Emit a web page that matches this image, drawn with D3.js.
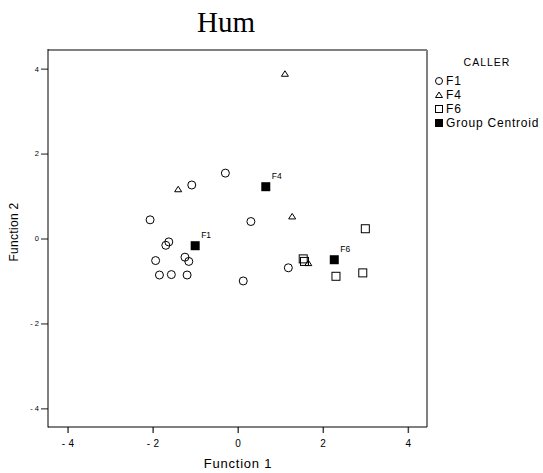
<!DOCTYPE html>
<html>
<head>
<meta charset="utf-8">
<script src="https://cdn.jsdelivr.net/npm/d3@7"></script>
<style>
  html, body { margin: 0; padding: 0; background: #fff; }
  svg { display: block; }
  text { font-family: "Liberation Sans", Arial, Helvetica, sans-serif; fill: #000; }
</style>
</head>
<body>
<svg id="chart" width="543" height="473"></svg>
<script>
// Discriminant scores per case, grouped by caller
const f1Points = [
  [-0.29, 1.54], [-1.08, 1.26], [-2.06, 0.44], [0.31, 0.40],
  [-1.62, -0.08], [-1.69, -0.16], [-1.93, -0.52], [-1.24, -0.44],
  [-1.15, -0.54], [-1.84, -0.86], [-1.56, -0.85], [-1.19, -0.86],
  [0.13, -1.00], [1.19, -0.69]
];
const f4Points = [
  [1.11, 3.88], [-1.40, 1.16], [1.28, 0.52], [1.66, -0.58]
];
const f6Points = [
  [3.00, 0.23], [1.54, -0.48], [1.57, -0.54], [2.31, -0.89], [2.94, -0.81]
];
// Group centroids
const centroidLabels = ["F1", "F4", "F6"];
const centroidX = [-1.00, 0.66, 2.27];
const centroidY = [-0.17, 1.22, -0.50];

const tickValues = [-4, -2, 0, 2, 4];
const legendLabels = ["F1", "F4", "F6", "Group Centroid"];

const svg = d3.select("#chart");
const plotLeft = 48, plotRight = 427, plotTop = 50, plotBottom = 427;

const x = d3.scaleLinear().domain([-4.46, 4.45]).range([plotLeft, plotRight]);
const y = d3.scaleLinear().domain([-4.44, 4.44]).range([plotBottom, plotTop]);

const fmt = v => v < 0 ? "- " + Math.abs(v) : String(v);

// Title
svg.append("text")
  .attr("x", 226).attr("y", 32)
  .attr("text-anchor", "middle")
  .style("font-family", "'Liberation Serif', 'Times New Roman', serif")
  .style("font-size", "29px")
  .text("Hum");

// Axes
const xAxis = svg.append("g")
  .attr("transform", `translate(0,${plotBottom})`)
  .call(d3.axisBottom(x).tickValues(tickValues).tickFormat(fmt).tickSize(6).tickPadding(7));
xAxis.select(".domain").remove();
xAxis.selectAll(".tick line").attr("stroke", "#444").attr("stroke-width", 1.5);
xAxis.selectAll(".tick text").style("font-size", "10px").style("letter-spacing", "0.3px");

const yAxis = svg.append("g")
  .attr("transform", `translate(${plotLeft},0)`)
  .call(d3.axisLeft(y).tickValues(tickValues).tickFormat(fmt).tickSize(7).tickPadding(2));
yAxis.select(".domain").remove();
yAxis.selectAll(".tick line").attr("stroke", "#666").attr("stroke-width", 1.5);
yAxis.selectAll(".tick text").style("font-size", "7.5px");

// Frame
svg.append("line").attr("x1", plotLeft).attr("x2", plotRight).attr("y1", plotTop).attr("y2", plotTop)
  .attr("stroke", "#808080").attr("stroke-width", 2);
svg.append("line").attr("x1", plotRight).attr("x2", plotRight).attr("y1", plotTop).attr("y2", plotBottom)
  .attr("stroke", "#808080").attr("stroke-width", 2);
svg.append("line").attr("x1", plotLeft).attr("x2", plotLeft).attr("y1", plotTop - 1).attr("y2", plotBottom + 0.5)
  .attr("stroke", "#000").attr("stroke-width", 1);
svg.append("line").attr("x1", plotLeft).attr("x2", plotRight).attr("y1", plotBottom).attr("y2", plotBottom)
  .attr("stroke", "#000").attr("stroke-width", 1);

// Axis titles
svg.append("text")
  .attr("x", 238).attr("y", 468)
  .attr("text-anchor", "middle")
  .style("font-size", "13px").style("letter-spacing", "0.8px")
  .text("Function 1");
svg.append("text")
  .attr("transform", "translate(18,232) rotate(-90)")
  .attr("text-anchor", "middle")
  .style("font-size", "12px").style("letter-spacing", "0.3px")
  .text("Function 2");

// Marker shapes
const triPath = (cx, cy) => `M${cx},${cy - 3}L${cx + 3.5},${cy + 2.5}L${cx - 3.5},${cy + 2.5}Z`;
const plot = svg.append("g");

plot.selectAll("circle.f1").data(f1Points).join("circle")
  .attr("class", "f1")
  .attr("cx", d => x(d[0])).attr("cy", d => y(d[1])).attr("r", 4)
  .attr("fill", "none").attr("stroke", "#000").attr("stroke-width", 1);

plot.selectAll("path.f4").data(f4Points).join("path")
  .attr("class", "f4")
  .attr("d", d => triPath(x(d[0]), y(d[1])))
  .attr("fill", "none").attr("stroke", "#000").attr("stroke-width", 1);

plot.selectAll("rect.f6").data(f6Points).join("rect")
  .attr("class", "f6")
  .attr("x", d => x(d[0]) - 4).attr("y", d => y(d[1]) - 4)
  .attr("width", 8).attr("height", 8)
  .attr("fill", "none").attr("stroke", "#000").attr("stroke-width", 1);

const centroids = centroidLabels.map((l, i) => ({ label: l, cx: centroidX[i], cy: centroidY[i] }));
plot.selectAll("rect.centroid").data(centroids).join("rect")
  .attr("class", "centroid")
  .attr("x", d => x(d.cx) - 4.5).attr("y", d => y(d.cy) - 4.5)
  .attr("width", 9).attr("height", 9)
  .attr("fill", "#000");
plot.selectAll("text.centroid").data(centroids).join("text")
  .attr("class", "centroid")
  .attr("x", d => x(d.cx) + 6).attr("y", d => y(d.cy) - 8)
  .style("font-size", "8.5px")
  .text(d => d.label);

// Legend
const lg = svg.append("g");
lg.append("text").attr("x", 487).attr("y", 66).attr("text-anchor", "middle")
  .style("font-size", "10.5px").style("letter-spacing", "1px").text("CALLER");
const legendY = [81, 95, 109, 123];
legendLabels.forEach((lab, i) => {
  const cy = legendY[i];
  const cx = 439;
  if (i === 0) {
    lg.append("circle").attr("cx", cx).attr("cy", cy).attr("r", 3.5)
      .attr("fill", "none").attr("stroke", "#000");
  } else if (i === 1) {
    lg.append("path").attr("d", triPath(cx, cy)).attr("fill", "none").attr("stroke", "#000");
  } else if (i === 2) {
    lg.append("rect").attr("x", cx - 3.5).attr("y", cy - 3.5).attr("width", 7).attr("height", 7)
      .attr("fill", "none").attr("stroke", "#000");
  } else {
    lg.append("rect").attr("x", cx - 4).attr("y", cy - 4).attr("width", 8).attr("height", 8)
      .attr("fill", "#000");
  }
  lg.append("text").attr("x", 446).attr("y", cy + 4)
    .style("font-size", "12px").style("letter-spacing", "0.8px").text(lab);
});
</script>
</body>
</html>
